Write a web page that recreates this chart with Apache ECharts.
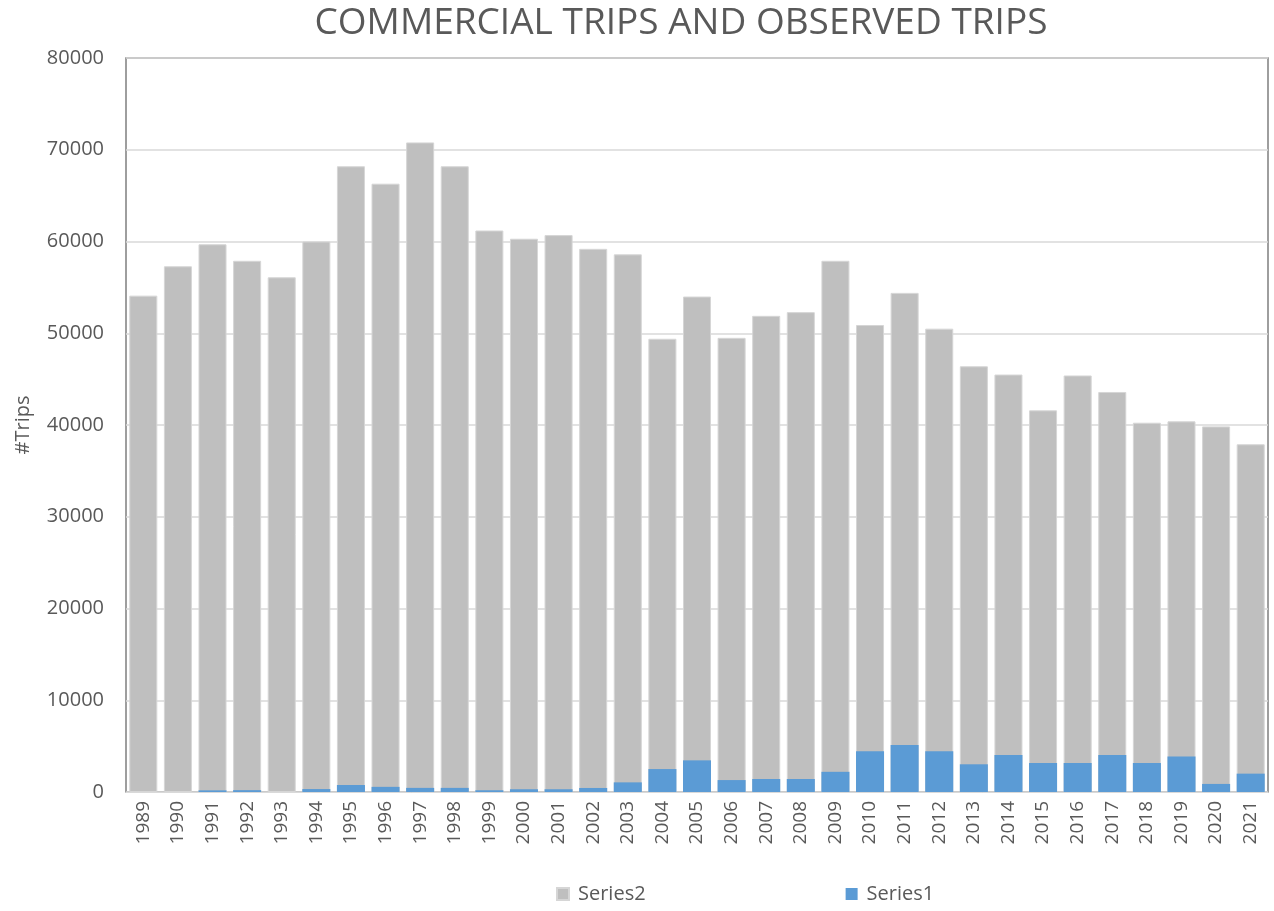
<!DOCTYPE html>
<html>
<head>
<meta charset="utf-8">
<script src="https://cdn.jsdelivr.net/npm/echarts@6/dist/echarts.min.js"></script>
<style>
html,body{margin:0;padding:0;background:#fff;}
#chart{width:1274px;height:911px;}
</style>
</head>
<body>
<div id="chart"></div>
<script>
const years = ['1989','1990','1991','1992','1993','1994','1995','1996','1997','1998','1999','2000','2001','2002','2003','2004','2005','2006','2007','2008','2009','2010','2011','2012','2013','2014','2015','2016','2017','2018','2019','2020','2021'];
const series2 = [54100,57300,59700,57900,56100,60000,68200,66300,70800,68200,61200,60300,60700,59200,58600,49400,54000,49500,51900,52300,57900,50900,54400,50500,46400,45500,41600,45400,43600,40250,40400,39850,37900];
const series1 = [0,0,180,200,0,320,760,560,450,450,190,300,300,440,1050,2500,3450,1300,1420,1420,2200,4450,5120,4450,3020,4020,3160,3160,4020,3160,3880,880,2000];
const yTicks = [0,10000,20000,30000,40000,50000,60000,70000,80000];

const chart = echarts.init(document.getElementById('chart'));
const font = 'Open Sans, Liberation Sans, sans-serif';
chart.setOption({
  animation: false,
  title: {
    text: 'COMMERCIAL TRIPS AND OBSERVED TRIPS',
    left: 676, top: 0, textAlign: 'center',
    textStyle: {fontFamily: font, fontSize: 37, fontWeight: 'normal', color: '#595959'}
  },
  legend: {
    data: ['Series2','Series1'],
    bottom: 2, left: 551, itemGap: 200,
    icon: 'rect', itemWidth: 12, itemHeight: 12,
    textStyle: {fontFamily: font, fontSize: 20, color: '#595959', padding: [0,0,0,4]}
  },
  grid: {
    left: 126, right: 6, top: 58, bottom: 119,
    show: true, borderColor: '#7f7f7f', borderWidth: 1.5, containLabel: false
  },
  xAxis: {
    type: 'category', data: years,
    axisTick: {show: false},
    axisLine: {show: true, lineStyle: {color: '#d9d9d9'}},
    axisLabel: {rotate: 90, fontFamily: font, fontSize: 19, color: '#595959', margin: 9, interval: 0}
  },
  yAxis: {
    type: 'value', min: yTicks[0], max: yTicks[yTicks.length-1], interval: 10000,
    name: '#Trips', nameLocation: 'middle', nameGap: 93, nameRotate: 90,
    nameTextStyle: {fontFamily: font, fontSize: 20, color: '#595959'},
    axisLine: {show: false}, axisTick: {show: false},
    axisLabel: {fontFamily: font, fontSize: 20, color: '#595959', margin: 22,
                formatter: v => String(v)},
    splitLine: {lineStyle: {color: '#d9d9d9', width: 1.5}}
  },
  series: [
    {name: 'Series2', type: 'bar', data: series2, barCategoryGap: '19%', barGap: '-100%',
     itemStyle: {color: '#bfbfbf', borderColor: '#d6d6d6', borderWidth: 1}},
    {name: 'Series1', type: 'bar', data: series1, barCategoryGap: '19%', barGap: '-100%',
     itemStyle: {color: '#5b9bd5', borderWidth: 0}}
  ]
});
</script>
</body>
</html>
